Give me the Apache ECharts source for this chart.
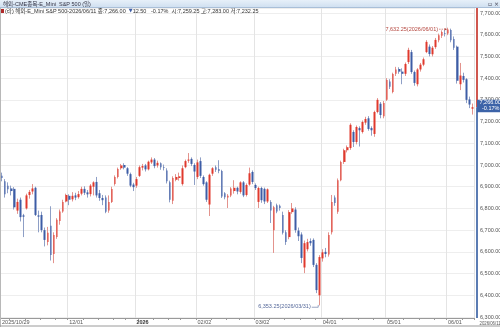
<!DOCTYPE html>
<html><head><meta charset="utf-8">
<script src="https://cdn.jsdelivr.net/npm/echarts@6/dist/echarts.min.js"></script>
<style>html,body{margin:0;padding:0;background:#fff;}#c{width:500px;height:327px;}</style>
</head><body><div id="c"></div>
<script>
// trading days, per month
const monthDays = [
 ['2025/10',[29,30,31]],
 ['2025/11',[3,4,5,6,7,10,11,12,13,14,17,18,19,20,21,24,25,26,28]],
 ['2025/12',[1,2,3,4,5,8,9,10,11,12,15,16,17,18,19,22,23,24,26,29,30,31]],
 ['2026/01',[2,5,6,7,8,9,12,13,14,15,16,20,21,22,23,26,27,28,29,30]],
 ['2026/02',[2,3,4,5,6,9,10,11,12,13,17,18,19,20,23,24,25,26,27]],
 ['2026/03',[2,3,4,5,6,9,10,11,12,13,16,17,18,19,20,23,24,25,26,27,30,31]],
 ['2026/04',[1,2,6,7,8,9,10,13,14,15,16,17,20,21,22,23,24,27,28,29,30]],
 ['2026/05',[1,4,5,6,7,8,11,12,13,14,15,18,19,20,21,22,26,27,28,29]],
 ['2026/06',[1,2,3,4,5,8,9,10,11]]
];
const dates = [];
monthDays.forEach(([m, ds]) => ds.forEach(d => dates.push(m + '/' + String(d).padStart(2, '0'))));

const openP = [6950,6925,6905,6892,6890,6790,6840,6768,6800,6862,6878,6895,6768,6770,6700,6645,6720,6590,6668,6742,6786,6832,
 6858,6842,6860,6852,6868,6890,6874,6866,6900,6922,6870,6848,6850,6790,6830,6912,6945,6985,7000,6985,6958,6910,
 6905,6950,6988,6998,6980,7012,7025,6998,7008,6990,6975,6920,6835,6932,6940,6912,6990,7020,7028,7000,
 6945,7018,6945,6920,6818,6960,6990,6982,6972,6870,6850,6860,6880,6895,6876,6920,6862,6910,6968,
 6908,6830,6894,6890,6832,6830,6700,6815,6812,6770,6690,6668,6783,6795,6698,6680,6528,6612,6650,6655,6540,6400,
 6570,6600,6588,6690,6850,6785,6930,7014,7068,7078,7152,7106,7170,7152,7195,7215,7170,7143,7244,7282,
 7225,7300,7385,7336,7420,7442,7430,7420,7474,7520,7428,7372,7440,7462,7520,7545,7510,7543,7575,7595,7608,
 7606,7622,7580,7545,7372,7410,7395,7302,7259.25];
const closeP = [6940,6865,6888,6880,6805,6830,6760,6762,6860,6876,6892,6770,6762,6700,6655,6688,6585,6678,6748,6786,6830,6862,
 6840,6858,6850,6866,6890,6872,6865,6905,6920,6860,6848,6838,6785,6830,6890,6945,6982,6998,6988,6960,6905,6898,
 6935,6990,6995,6980,7015,7025,6995,7010,6990,6986,6925,6840,6940,6945,6948,6985,7018,7025,7005,6970,
 7012,6950,6912,6840,6955,6985,6978,6972,6855,6852,6858,6892,6895,6878,6920,6860,6908,6962,6922,
 6894,6894,6838,6832,6888,6790,6805,6786,6802,6688,6645,6783,6800,6700,6672,6572,6640,6645,6640,6540,6424,6576,
 6598,6590,6678,6830,6825,6930,7014,7068,7082,7185,7106,7175,7160,7198,7212,7166,7160,7244,7300,7230,
 7285,7391,7360,7419,7440,7430,7420,7465,7530,7428,7378,7440,7462,7487,7567,7511,7540,7576,7598,7612,7604,
 7624,7575,7540,7388,7412,7392,7300,7278.5,7266];
const lowP = [6925,6850,6870,6860,6795,6775,6740,6668,6795,6845,6865,6765,6690,6690,6625,6630,6560,6548,6660,6725,6780,6828,
 6815,6832,6838,6845,6860,6862,6850,6855,6860,6850,6835,6815,6778,6780,6825,6905,6938,6978,6980,6950,6898,6880,
 6895,6945,6975,6970,6975,7005,6985,6988,6978,6975,6915,6828,6820,6925,6928,6905,6985,7010,6995,6908,
 6935,6940,6905,6830,6765,6950,6968,6962,6848,6842,6802,6852,6868,6865,6868,6852,6855,6905,6912,
 6885,6802,6826,6820,6825,6733,6595,6778,6790,6680,6632,6658,6775,6688,6650,6548,6502,6602,6628,6530,6410,6353.25,
 6555,6575,6578,6680,6812,6775,6925,7005,7058,7070,7083,7095,7085,7145,7185,7158,7135,7130,7238,7215,
 7215,7295,7350,7330,7410,7420,7372,7410,7465,7420,7365,7362,7430,7455,7515,7500,7500,7535,7565,7585,7592,
 7598,7565,7530,7375,7345,7380,7285,7262,7232.25];
const highP = [6965,6935,6920,6905,6898,6845,6850,6775,6868,6885,6912,6900,6790,6785,6712,6715,6810,6690,6755,6795,6840,6868,
 6865,6875,6872,6880,6900,6902,6885,6912,6925,6945,6885,6862,6860,6860,6900,6952,6988,7005,7008,6990,6965,6918,
 6945,6998,7005,7005,7020,7035,7032,7020,7012,7002,6985,6928,6948,6958,6965,6998,7025,7055,7035,7008,
 7025,7035,6952,6925,6960,6990,6998,7022,6978,6875,6866,6898,6930,6900,6925,6926,6915,6988,6975,
 6915,6900,6900,6896,6892,6838,6812,6822,6818,6785,6700,6792,6825,6805,6712,6690,6652,6660,6662,6662,6548,6585,
 6612,6618,6690,6862,6860,6938,7020,7075,7090,7192,7160,7182,7178,7205,7222,7225,7178,7250,7308,7290,
 7295,7400,7395,7425,7452,7450,7445,7472,7540,7530,7435,7446,7470,7495,7575,7555,7548,7585,7605,7620,7622,
 7632.25,7628,7592,7550,7470,7425,7400,7315,7283];

const xTickDates  = ['2025/10/29','2025/12/01','2026/01/02','2026/02/02','2026/03/02','2026/04/01','2026/05/01','2026/06/01'];
const xTickLabels = ['2025/10/29','12/01','2026','02/02','03/02','04/01','05/01','06/01'];
const yTickValues = [6400,6500,6600,6700,6800,6900,7000,7100,7200,7300,7400,7500,7600];
const yEdgeTicks = [6300, 7700];
const highNote = {date:'2026/06/01', value:7632.25, text:'7,632.25(2026/06/01)'};
const lowNote  = {date:'2026/03/31', value:6353.25, text:'6,353.25(2026/03/31)'};
const infoTitle = '해외-CME종목-E_Mini  S&P 500 (일)';
const lastInfo = {name:'해외-E_Mini S&P 500-2026/06/11', close:'7,266.00', chg:'12.50', pct:'-0.17%', open:'7,259.25', high:'7,283.00', low:'7,232.25'};

const FONT = "'Liberation Sans Narrow','Liberation Sans','Noto Sans CJK KR',sans-serif";
const UP = '#e0392d', DOWN = '#3d5da6', UPW = '#e3938d', DOWNW = '#8e9fc6';

const tickIdx = new Set(xTickDates.map(d => dates.indexOf(d)));
const weekIdx = new Set();
dates.forEach((d, i) => {
  const dow = new Date(d.replace(/\//g, '-') + 'T00:00:00').getDay();
  if (i === 0) { weekIdx.add(i); return; }
  const pdow = new Date(dates[i-1].replace(/\//g, '-') + 'T00:00:00').getDay();
  if (dow <= pdow) weekIdx.add(i);
});

const wickData = dates.map((d, i) => [openP[i], closeP[i], lowP[i], highP[i]]);
const bodyData = dates.map((d, i) => [openP[i], closeP[i], Math.min(openP[i], closeP[i]), Math.max(openP[i], closeP[i])]);

const fmt = v => v.toLocaleString('en-US', {minimumFractionDigits: 2, maximumFractionDigits: 2});

const option = {
  animation: false,
  backgroundColor: '#ffffff',
  grid: {left: 0.5, right: 26, top: 8, bottom: 9, containLabel: false, outerBoundsMode: 'none'},
  xAxis: {
    type: 'category', data: dates, boundaryGap: true,
    axisLine: {show: true, lineStyle: {color: '#9a9a9a', width: 1}},
    axisTick: {show: true, length: 2, interval: (i) => weekIdx.has(i), lineStyle: {color: '#9a9a9a'}},
    axisLabel: {
      show: true, interval: (i) => tickIdx.has(i), align: 'left', margin: 1.5,
      fontSize: 5.5, color: '#555', fontFamily: FONT,
      formatter: (v, i) => {
        const k = xTickDates.indexOf(v);
        const t = k >= 0 ? xTickLabels[k] : '';
        return t === '2026' ? '{b|2026}' : t;
      },
      rich: {b: {fontWeight: 'bold', fontSize: 5.5, color: '#333', fontFamily: FONT}}
    },
    splitLine: {show: true, interval: (i) => tickIdx.has(i), lineStyle: {color: '#e4e4e4', width: 1}}
  },
  yAxis: {
    type: 'value', position: 'right', offset: 3,
    min: 6295.4, max: 7723, splitNumber: 14, scale: true,
    axisLine: {show: false}, axisTick: {show: false},
    axisLabel: {margin: 3, fontSize: 5.5, color: '#555', fontFamily: FONT, align: 'left',
      customValues: yTickValues, hideOverlap: false, showMinLabel: true, showMaxLabel: true,
      formatter: v => fmt(v)},
    splitLine: {show: true, lineStyle: {color: '#eeeeee', width: 1}}
  },
  series: [
    {type: 'candlestick', name: 'wick', data: wickData, barWidth: 0.6, z: 2,
     itemStyle: {color: UPW, color0: DOWNW, borderColor: UPW, borderColor0: DOWNW, borderWidth: 1}},
    {type: 'candlestick', name: 'body', data: bodyData, barWidth: 2.2, z: 3,
     itemStyle: {color: UP, color0: DOWN, borderColor: UP, borderColor0: DOWN, borderWidth: 0}}
  ]
};

const chart = echarts.init(document.getElementById('c'), null, {renderer: 'canvas'});
chart.setOption(option);

// extra decorations placed through the chart's own scales
const lastI = dates.length - 1;
const lastClose = closeP[lastI];
const py = chart.convertToPixel({gridIndex: 0}, [lastI, lastClose])[1];
const topY = chart.convertToPixel({yAxisIndex: 0}, 7723);
const botY = chart.convertToPixel({yAxisIndex: 0}, 6295.4);
const axisX = 476;
const [hx, hy] = chart.convertToPixel({gridIndex: 0}, [highNote.date, highNote.value]);
const [lx, ly] = chart.convertToPixel({gridIndex: 0}, [lowNote.date, lowNote.value]);

const g = [];
// title bar
g.push({type: 'rect', shape: {x: 0, y: 0, width: 500, height: 7.5}, z: 100,
  style: {fill: new echarts.graphic.LinearGradient(0, 0, 0, 1, [{offset: 0, color: '#e7f0f9'}, {offset: 1, color: '#cfdff0'}])}});
g.push({type: 'line', shape: {x1: 0, y1: 7.5, x2: 500, y2: 7.5}, z: 100, style: {stroke: '#a9bfd8', lineWidth: 1}});
g.push({type: 'text', x: 3, y: 4, z: 101, style: {text: infoTitle, fontSize: 5.5, fill: '#334', fontFamily: FONT, verticalAlign: 'middle'}});
g.push({type: 'text', x: 488, y: 4, z: 101, style: {text: '▫ ×', fontSize: 6, fill: '#445', fontFamily: "'DejaVu Sans',sans-serif", verticalAlign: 'middle'}});
// info row
g.push({type: 'rect', shape: {x: 1, y: 9, width: 3, height: 4}, z: 101, style: {fill: '#b02a2a'}});
g.push({type: 'text', x: 5, y: 11.2, z: 101, style: {
  text: '{a|(라) ' + lastInfo.name + ' 종:' + lastInfo.close + '  }{d|▼}{a|' + lastInfo.chg + '   ' + lastInfo.pct + '  시:' + lastInfo.open + ' 고:' + lastInfo.high + ' 저:' + lastInfo.low + '}',
  verticalAlign: 'middle',
  rich: {a: {fontSize: 5.5, fill: '#333', fontFamily: FONT}, d: {fontSize: 5, fill: '#3d5da6', fontFamily: "'DejaVu Sans',sans-serif"}}
}});
// edge value labels (top and bottom of the value axis), placed through the y scale
yEdgeTicks.forEach(v => {
  const yy = chart.convertToPixel({yAxisIndex: 0}, v);
  g.push({type: 'text', x: 480, y: yy, z: 61, style: {text: fmt(v), fontSize: 5.5, fill: '#555', fontFamily: FONT, verticalAlign: 'middle'}});
});
// right axis line, red above last price, blue below
g.push({type: 'rect', shape: {x: axisX, y: topY, width: 2, height: py - topY}, z: 50, style: {fill: '#d0574f'}});
g.push({type: 'rect', shape: {x: axisX, y: py, width: 2, height: botY - py}, z: 50, style: {fill: '#5b7cb3'}});
// price box
g.push({type: 'rect', shape: {x: 477, y: py - 7.5, width: 23, height: 12.5}, z: 60, style: {fill: '#3c63a8'}});
g.push({type: 'text', x: 479.5, y: py - 4.3, z: 61, style: {text: fmt(lastClose), fontSize: 5.5, fill: '#fff', fontFamily: FONT, verticalAlign: 'middle'}});
g.push({type: 'text', x: 482, y: py + 1.6, z: 61, style: {text: lastInfo.pct, fontSize: 5.5, fill: '#fff', fontFamily: FONT, verticalAlign: 'middle'}});
// last date under the value axis
g.push({type: 'text', x: 479.5, y: 323, scaleX: 0.78, z: 61, style: {text: dates[lastI], fontSize: 5.5, fill: '#555', fontFamily: FONT, verticalAlign: 'middle'}});
// frame lines
g.push({type: 'line', shape: {x1: 0.5, y1: 8, x2: 0.5, y2: 327}, z: 40, style: {stroke: '#b8b8b8', lineWidth: 1}});
g.push({type: 'line', shape: {x1: 0, y1: 326, x2: 500, y2: 326}, z: 40, style: {stroke: '#9a9a9a', lineWidth: 1}});
// high annotation
g.push({type: 'text', x: hx - 10, y: hy + 1.5, z: 70, style: {text: highNote.text, fontSize: 5.5, fill: '#b4463e', fontFamily: FONT, align: 'right', verticalAlign: 'middle'}});
g.push({type: 'line', shape: {x1: hx - 9, y1: hy + 1.5, x2: hx - 2, y2: hy + 1.5}, z: 70, style: {stroke: '#b4463e', lineWidth: 0.6, lineDash: [1.5, 1]}});
g.push({type: 'polygon', shape: {points: [[hx - 1, hy + 1.5], [hx - 3.5, hy + 0.2], [hx - 3.5, hy + 2.8]]}, z: 70, style: {fill: '#b4463e'}});
// low annotation
g.push({type: 'text', x: lx - 9, y: ly + 1.5, z: 70, style: {text: lowNote.text, fontSize: 5.5, fill: '#56699a', fontFamily: FONT, align: 'right', verticalAlign: 'middle'}});
g.push({type: 'polyline', shape: {points: [[lx - 8, ly + 1.8], [lx - 1.5, ly + 1.8], [lx - 1.5, ly - 0.5]]}, z: 70, style: {stroke: '#56699a', lineWidth: 0.6, fill: null}});
chart.setOption({graphic: g});
</script>
</body></html>
